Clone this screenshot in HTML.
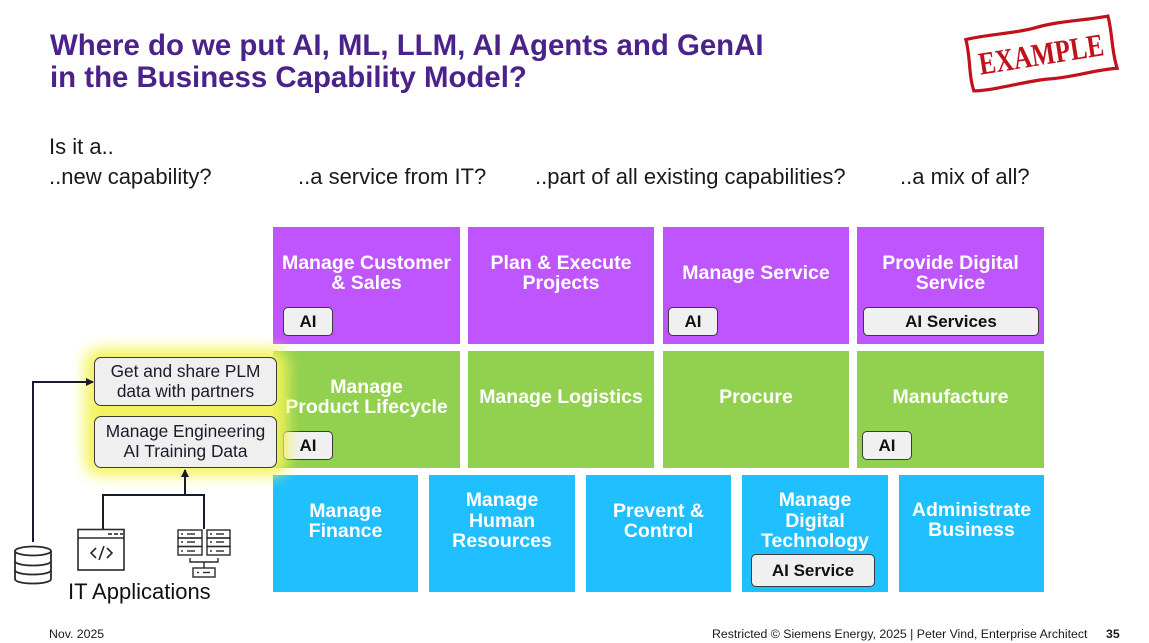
<!DOCTYPE html>
<html>
<head>
<meta charset="utf-8">
<style>
html,body{margin:0;padding:0;}
body{width:1149px;height:643px;overflow:hidden;background:#fff;position:relative;font-family:"Liberation Sans",Arial,sans-serif;}
.abs{position:absolute;}
.title{left:50px;top:30px;font-size:29.4px;line-height:32px;font-weight:bold;color:#4b2289;white-space:nowrap;}
.q{font-size:22px;line-height:30px;color:#1a1a1a;white-space:nowrap;}
.box{position:absolute;}
.p{background:#bf55fe;}
.g{background:#92d050;}
.b{background:#20bfff;}
.bt{position:absolute;left:0;right:0;text-align:center;color:#fff;font-weight:bold;font-size:19.5px;line-height:20px;white-space:nowrap;}
.badge{position:absolute;background:#f0f0f0;border:1px solid #3a3a3a;border-radius:5px;box-sizing:border-box;text-align:center;font-weight:bold;font-size:17px;color:#111;line-height:27px;}
.plm{position:absolute;left:94px;width:183px;background:#efefef;border:1.5px solid #3a3a3a;border-radius:7px;box-sizing:border-box;text-align:center;font-size:17.3px;line-height:19.5px;color:#1a1a2a;z-index:5;white-space:nowrap;}
.glow{position:absolute;left:84px;top:348px;width:204px;height:128px;background:#f3f35a;filter:blur(7px);border-radius:16px;z-index:3;opacity:.95;}
.foot{font-size:12.3px;color:#1a1a1a;white-space:nowrap;}
</style>
</head>
<body>

<div class="abs title">Where do we put AI, ML, LLM, AI Agents and GenAI<br>in the Business Capability Model?</div>

<!-- EXAMPLE stamp -->
<svg class="abs" style="left:940px;top:0px;z-index:2" width="209" height="110" viewBox="940 0 209 110">
  <g transform="translate(1041,54) rotate(-9)">
    <path d="M-72,-26 C-50,-28 -20,-24 0,-27 C25,-30 50,-26 72,-27 C74,-10 70,8 73,26 C50,24 30,28 5,26 C-20,24 -50,29 -72,26 C-75,10 -70,-8 -72,-26 Z" fill="#fff" stroke="#c0121b" stroke-width="3.2"/>
    <text x="0" y="11" text-anchor="middle" font-family="'Liberation Serif',serif" font-weight="bold" font-size="32" fill="#c0121b" textLength="126" lengthAdjust="spacingAndGlyphs">EXAMPLE</text>
  </g>
</svg>

<div class="abs q" style="left:49px;top:132px;">Is it a..</div>
<div class="abs q" style="left:49px;top:162px;">..new capability?</div>
<div class="abs q" style="left:298px;top:162px;">..a service from IT?</div>
<div class="abs q" style="left:535px;top:162px;">..part of all existing capabilities?</div>
<div class="abs q" style="left:900px;top:162px;">..a mix of all?</div>

<!-- Row 1 -->
<div class="box p" style="left:273px;top:227px;width:187px;height:117px;">
  <div class="bt" style="top:26px;">Manage Customer<br>&amp; Sales</div>
  <div class="badge" style="left:10px;top:80px;width:50px;height:29px;">AI</div>
</div>
<div class="box p" style="left:468px;top:227px;width:186px;height:117px;">
  <div class="bt" style="top:26px;">Plan &amp; Execute<br>Projects</div>
</div>
<div class="box p" style="left:663px;top:227px;width:186px;height:117px;">
  <div class="bt" style="top:36px;">Manage Service</div>
  <div class="badge" style="left:5px;top:80px;width:50px;height:29px;">AI</div>
</div>
<div class="box p" style="left:857px;top:227px;width:187px;height:117px;">
  <div class="bt" style="top:26px;">Provide Digital<br>Service</div>
  <div class="badge" style="left:6px;top:80px;width:176px;height:29px;">AI Services</div>
</div>

<!-- Row 2 -->
<div class="box g" style="left:273px;top:351px;width:187px;height:117px;">
  <div class="bt" style="top:26px;">Manage<br>Product Lifecycle</div>
  <div class="badge" style="left:10px;top:80px;width:50px;height:29px;">AI</div>
</div>
<div class="box g" style="left:468px;top:351px;width:186px;height:117px;">
  <div class="bt" style="top:36px;">Manage Logistics</div>
</div>
<div class="box g" style="left:663px;top:351px;width:186px;height:117px;">
  <div class="bt" style="top:36px;">Procure</div>
</div>
<div class="box g" style="left:857px;top:351px;width:187px;height:117px;">
  <div class="bt" style="top:36px;">Manufacture</div>
  <div class="badge" style="left:5px;top:80px;width:50px;height:29px;">AI</div>
</div>

<!-- Row 3 -->
<div class="box b" style="left:273px;top:475px;width:145px;height:117px;">
  <div class="bt" style="top:26px;">Manage<br>Finance</div>
</div>
<div class="box b" style="left:429px;top:475px;width:146px;height:117px;">
  <div class="bt" style="top:15px;line-height:20.5px;">Manage<br>Human<br>Resources</div>
</div>
<div class="box b" style="left:586px;top:475px;width:145px;height:117px;">
  <div class="bt" style="top:26px;">Prevent &amp;<br>Control</div>
</div>
<div class="box b" style="left:742px;top:475px;width:146px;height:117px;">
  <div class="bt" style="top:15px;line-height:20.5px;">Manage<br>Digital<br>Technology</div>
  <div class="badge" style="left:9px;top:79px;width:124px;height:33px;line-height:31px;">AI Service</div>
</div>
<div class="box b" style="left:899px;top:475px;width:145px;height:117px;">
  <div class="bt" style="top:25px;">Administrate<br>Business</div>
</div>

<!-- glow & PLM boxes -->
<div class="glow"></div>
<div class="plm" style="top:357px;height:49px;padding-top:4px;">Get and share PLM<br>data with partners</div>
<div class="plm" style="top:416px;height:52px;padding-top:5px;">Manage Engineering<br>AI Training Data</div>

<!-- connectors and icons -->
<svg class="abs" style="left:0;top:0;z-index:6" width="300" height="643" viewBox="0 0 300 643">
  <defs>
    <marker id="ah" markerWidth="8" markerHeight="8" refX="7" refY="4" orient="auto" markerUnits="userSpaceOnUse">
      <path d="M0,0 L8,4 L0,8 Z" fill="#1a1a2e"/>
    </marker>
  </defs>
  <polyline points="33,542 33,382 93,382" fill="none" stroke="#1a1a2e" stroke-width="2" marker-end="url(#ah)"/>
  <polyline points="103,529 103,495 204,495 204,529" fill="none" stroke="#1a1a2e" stroke-width="2"/>
  <line x1="185" y1="495" x2="185" y2="470" stroke="#1a1a2e" stroke-width="2" marker-end="url(#ah)"/>

  <g fill="none" stroke="#2a2a2a" stroke-width="1.8">
    <ellipse cx="33" cy="551" rx="18" ry="4.5"/>
    <path d="M15,551 L15,579 C15,585 51,585 51,579 L51,551"/>
    <path d="M15,561 C15,567 51,567 51,561"/>
    <path d="M15,570 C15,576 51,576 51,570"/>
  </g>

  <g fill="none" stroke="#2a2a2a" stroke-width="1.6">
    <rect x="78" y="529.5" width="46" height="40.5"/>
    <line x1="78" y1="538" x2="124" y2="538"/>
    <line x1="108" y1="534" x2="112" y2="534"/>
    <line x1="114" y1="534" x2="118" y2="534"/>
    <line x1="120" y1="534" x2="123" y2="534"/>
    <polyline points="96,548 91,553 96,558"/>
    <line x1="104" y1="546" x2="99" y2="560"/>
    <polyline points="107,548 112,553 107,558"/>
  </g>

  <g fill="none" stroke="#2a2a2a" stroke-width="1.4">
    <rect x="178" y="530" width="24" height="8"/>
    <rect x="178" y="538" width="24" height="8.5"/>
    <rect x="178" y="546.5" width="24" height="8.5"/>
    <rect x="207" y="530" width="23" height="8"/>
    <rect x="207" y="538" width="23" height="8.5"/>
    <rect x="207" y="546.5" width="23" height="8.5"/>
    <line x1="181" y1="534" x2="183" y2="534"/><line x1="187" y1="534" x2="195" y2="534"/>
    <line x1="181" y1="542" x2="183" y2="542"/><line x1="187" y1="542" x2="195" y2="542"/>
    <line x1="181" y1="551" x2="183" y2="551"/><line x1="187" y1="551" x2="195" y2="551"/>
    <line x1="210" y1="534" x2="212" y2="534"/><line x1="216" y1="534" x2="224" y2="534"/>
    <line x1="210" y1="542" x2="212" y2="542"/><line x1="216" y1="542" x2="224" y2="542"/>
    <line x1="210" y1="551" x2="212" y2="551"/><line x1="216" y1="551" x2="224" y2="551"/>
    <polyline points="190,558 190,562 218,562 218,558"/>
    <line x1="204" y1="562" x2="204" y2="568"/>
    <rect x="193" y="568" width="22" height="9"/>
    <line x1="197" y1="572.5" x2="199" y2="572.5"/><line x1="203" y1="572.5" x2="210" y2="572.5"/>
  </g>
</svg>

<div class="abs" style="left:68px;top:579px;font-size:22px;line-height:26px;color:#111;white-space:nowrap;">IT Applications</div>

<!-- footer -->
<div class="abs foot" style="left:49px;top:627px;">Nov. 2025</div>
<div class="abs foot" style="left:712px;top:627px;">Restricted © Siemens Energy, 2025 | Peter Vind, Enterprise Architect</div>
<div class="abs foot" style="left:1106px;top:627px;font-weight:bold;">35</div>

</body>
</html>
